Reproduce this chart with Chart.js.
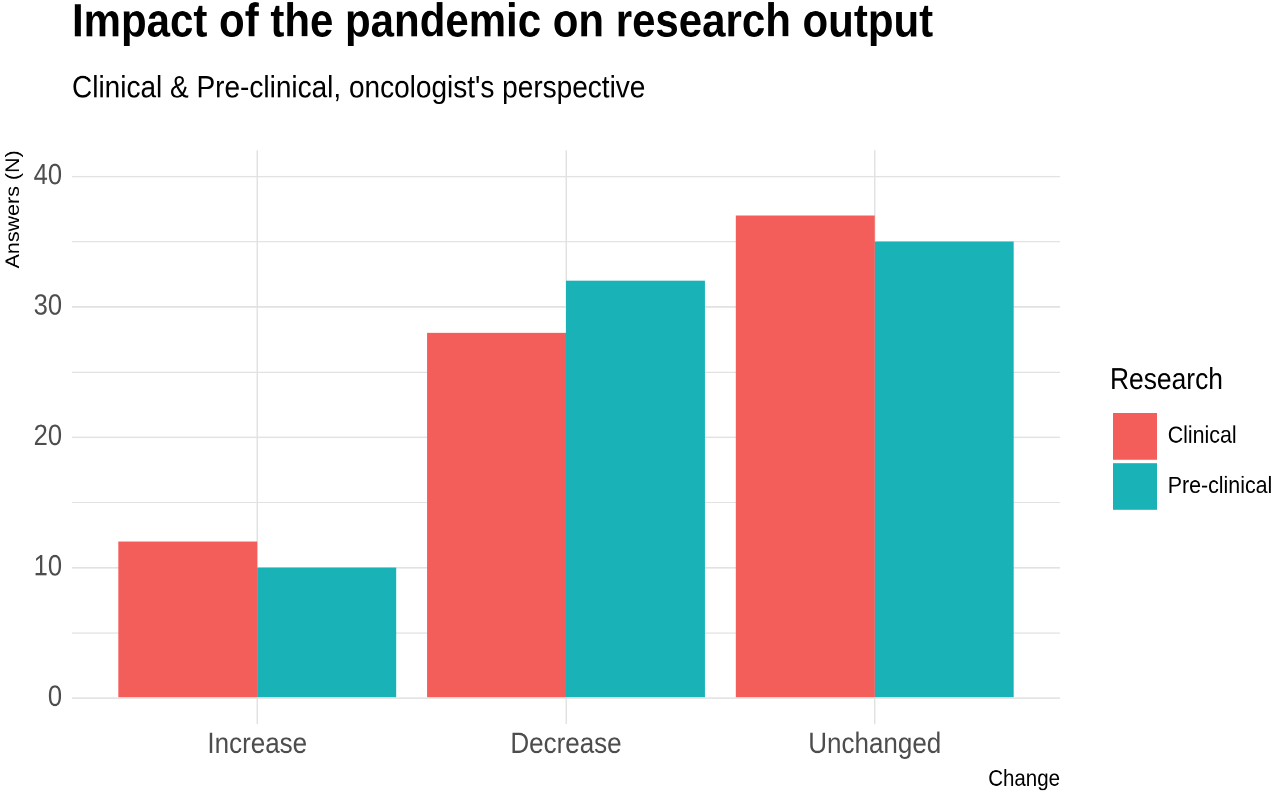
<!DOCTYPE html>
<html>
<head>
<meta charset="utf-8">
<script src="https://cdn.jsdelivr.net/npm/chart.js@4/dist/chart.umd.min.js"></script>
<style>
  html, body { margin: 0; padding: 0; background: #fff; overflow: hidden; }
</style>
</head>
<body>
<!-- the source picture is a little taller than wide: draw at 712 high, show at 797 -->
<canvas id="chart" width="1280" height="712" style="display:block;width:1280px;height:797px"></canvas>
<script>
// data
const categories = ['Increase', 'Decrease', 'Unchanged'];
const seriesNames = ['Clinical', 'Pre-clinical'];
const clinical = [12, 28, 37];
const preclinical = [10, 32, 35];
const colors = ['#F35E5A', '#19B2B7'];

Chart.defaults.font.family = "'Liberation Sans', Arial, sans-serif";

// x is a linear axis so the outer space can be 0.6 of a category, like ggplot
function toPoints(values) {
    return values.map((v, i) => ({ x: i + 1, y: v }));
}

const datasets = [clinical, preclinical].map((values, i) => ({
    label: seriesNames[i],
    data: toPoints(values),
    backgroundColor: colors[i],
    borderWidth: 0,
    categoryPercentage: 0.9,
    barPercentage: 1.0
}));

const gridColor = '#e2e2e2';

new Chart(document.getElementById('chart'), {
    type: 'bar',
    data: { datasets: datasets },
    options: {
        responsive: false,
        animation: false,
        devicePixelRatio: 2,
        layout: { padding: 0 },
        scales: {
            x: {
                type: 'linear',
                min: 0.4,
                max: 3.6,
                offset: false,
                grid: { color: gridColor, lineWidth: 1.5, drawTicks: false, offset: false },
                border: { display: false },
                ticks: {
                    stepSize: 1,
                    includeBounds: false,
                    autoSkip: false,
                    maxRotation: 0,
                    padding: 3,
                    color: '#4d4d4d',
                    font: { size: 26 },
                    callback: v => categories[v - 1] ?? ''
                },
                title: {
                    display: true,
                    text: 'Change',
                    align: 'end',
                    color: '#000',
                    font: { size: 20.5 },
                    padding: { top: 0, bottom: 3.5 }
                },
                afterFit: s => { s.height = 65.2; }
            },
            y: {
                type: 'linear',
                min: -2,
                max: 42,
                grid: {
                    color: gridColor,
                    lineWidth: c => (c.tick && c.tick.value % 10 === 0) ? 1.4 : 1,
                    drawTicks: false
                },
                border: { display: false },
                ticks: {
                    stepSize: 5,
                    includeBounds: false,
                    autoSkip: false,
                    padding: 10,
                    color: '#4d4d4d',
                    font: { size: 25.5 },
                    callback: v => (v % 10 === 0 ? v : '')
                },
                title: {
                    display: true,
                    text: 'Answers (N)',
                    align: 'end',
                    color: '#000',
                    font: { size: 19.2 },
                    padding: { top: 2, bottom: 0 }
                },
                afterFit: s => { s.width = 72; }
            },
            // empty axis, only keeps a gap between the plot and the legend
            gap: {
                type: 'linear',
                position: 'right',
                grid: { display: false },
                border: { display: false },
                ticks: { display: false },
                afterFit: s => { s.width = 50; }
            }
        },
        plugins: {
            title: {
                display: true,
                text: 'Impact of the pandemic on research output',
                align: 'start',
                fullSize: false,
                color: '#000',
                font: { size: 42, weight: 'bold', lineHeight: 0.87 },
                padding: { top: 2.5, bottom: 0 }
            },
            subtitle: {
                display: true,
                text: "Clinical & Pre-clinical, oncologist's perspective",
                align: 'start',
                fullSize: false,
                color: '#000',
                font: { size: 28, lineHeight: 1.2 },
                padding: { top: 23.6, bottom: 38 }
            },
            legend: {
                position: 'right',
                align: 'center',
                maxWidth: 170,
                title: {
                    display: true,
                    text: 'Research',
                    position: 'start',
                    color: '#000',
                    font: { size: 26.4 },
                    padding: { top: 73.6, bottom: 7.1 }
                },
                labels: {
                    boxWidth: 44,
                    boxHeight: 41.7,
                    padding: 3,
                    color: '#000',
                    font: { size: 21.4 }
                }
            },
            tooltip: { enabled: false }
        }
    }
});
</script>
</body>
</html>
